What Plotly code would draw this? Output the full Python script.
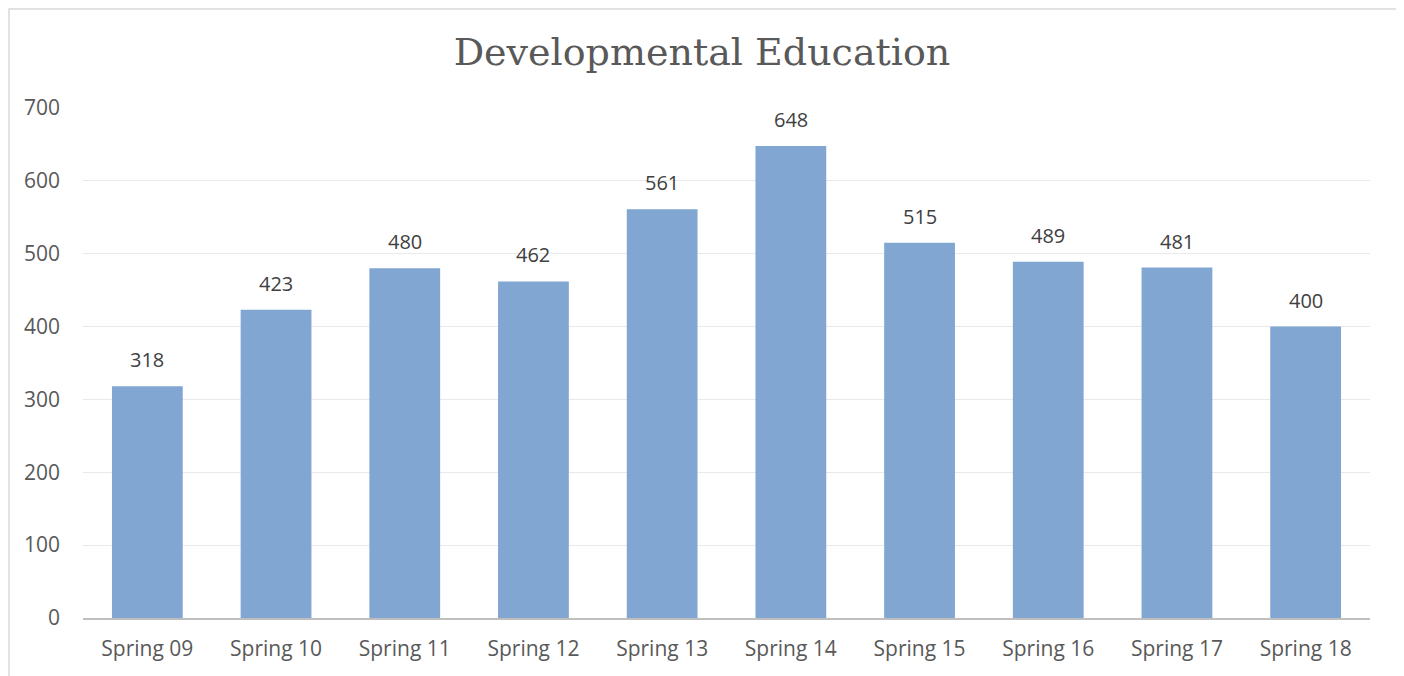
import plotly.graph_objects as go

categories = ["Spring 09", "Spring 10", "Spring 11", "Spring 12", "Spring 13",
              "Spring 14", "Spring 15", "Spring 16", "Spring 17", "Spring 18"]
values = [318, 423, 480, 462, 561, 648, 515, 489, 481, 400]
y_ticks = [0, 100, 200, 300, 400, 500, 600, 700]

# page body adds an 8px offset; layout is compensated for it
W, H = 1404, 676
ml, mr, mt, mb = 75, 42, 100, 66

fig = go.Figure()
fig.add_trace(go.Bar(
    x=categories, y=values,
    marker=dict(color="#81A6D1", line=dict(width=0)),
    hoverinfo="x+y",
))

for c, v in zip(categories, values):
    fig.add_annotation(x=c, y=v, text=str(v), showarrow=False,
                       yanchor="bottom", yshift=11,
                       font=dict(family="Open Sans", size=20, color="#404040"))

pw = W - ml - mr
ph = H - mt - mb
fig.add_shape(type="rect", xref="paper", yref="paper",
              x0=(1 - ml) / pw, x1=(1389 - ml) / pw,
              y0=(H - mb - 720) / ph, y1=(H - mb - 1) / ph,
              line=dict(color="#D9D9D9", width=1.5), fillcolor="rgba(0,0,0,0)",
              layer="below")

fig.update_layout(
    width=W, height=H,
    margin=dict(l=ml, r=mr, t=mt, b=mb),
    paper_bgcolor="white", plot_bgcolor="white",
    bargap=0.45,
    showlegend=False,
    title=dict(text="Developmental Education", x=(702 - 8) / W, xanchor="center",
               y=1 - 44 / H, yanchor="middle",
               font=dict(family="DejaVu Serif", size=38, color="#595959")),
    xaxis=dict(showgrid=False, showline=True, linecolor="#BFBFBF", linewidth=2,
               ticks="", ticklabelstandoff=11,
               tickfont=dict(family="Open Sans", size=21, color="#595959"),
               fixedrange=True),
    yaxis=dict(range=[0, 700], tickvals=y_ticks, showgrid=True, gridcolor="#E9E9E9",
               gridwidth=1, zeroline=False, showline=False, ticks="",
               ticklabelstandoff=22,
               tickfont=dict(family="Open Sans", size=21, color="#595959"),
               fixedrange=True),
)

fig.write_html("out.html")
